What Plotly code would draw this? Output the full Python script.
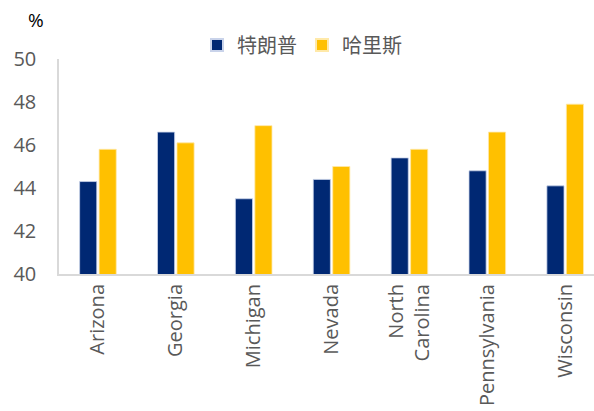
import plotly.graph_objects as go

states = ["Arizona", "Georgia", "Michigan", "Nevada", "North<br>Carolina", "Pennsylvania", "Wisconsin"]
trump = [44.3, 46.6, 43.5, 44.4, 45.4, 44.8, 44.1]
harris = [45.8, 46.1, 46.9, 45.0, 45.8, 46.6, 47.9]
y_ticks = [40, 42, 44, 46, 48, 50]

fig = go.Figure()
fig.add_trace(go.Bar(x=states, y=trump, name="特朗普", marker=dict(color="#002873", line=dict(color="#c9d3ea", width=0.8))))
fig.add_trace(go.Bar(x=states, y=harris, name="哈里斯", marker=dict(color="#FFC000", line=dict(color="#ffe9a8", width=0.8))))

fig.update_layout(
    width=594, height=411,
    margin=dict(l=59, r=0, t=59, b=137, autoexpand=False),
    paper_bgcolor="white", plot_bgcolor="white",
    barmode="group", bargap=0.5, bargroupgap=0.12,
    font=dict(family="Open Sans, Liberation Sans, sans-serif", color="#595959", size=20),
    showlegend=True,
    legend=dict(orientation="h", x=(197 - 59) / 535, xanchor="left", y=(274 - 45) / 215, yref="paper",
                yanchor="middle",
                font=dict(family="Noto Sans CJK SC", size=20, color="#595959"),
                itemwidth=30, traceorder="normal", itemsizing="constant", bgcolor="rgba(0,0,0,0)"),
    xaxis=dict(range=[-0.5, 6.37], tickangle=-90, showline=True, linecolor="#d9d9d9", linewidth=2,
               ticks="", showgrid=False, tickfont=dict(size=20), automargin=False),
    yaxis=dict(range=[40, 50], tickvals=y_ticks, showline=True, linecolor="#d9d9d9", linewidth=1.5,
               ticks="", showgrid=False, zeroline=False, tickfont=dict(size=20), ticklabelstandoff=17,
               automargin=False),
)
fig.add_annotation(text="%", xref="paper", yref="paper", x=(46 - 59) / 535, y=(274 - 20) / 215, xanchor="right",
                   yanchor="middle", showarrow=False, font=dict(size=19, color="#000000"))

fig.write_html("out.html", post_script="document.body.style.margin='0';",
               config={"displayModeBar": False})
